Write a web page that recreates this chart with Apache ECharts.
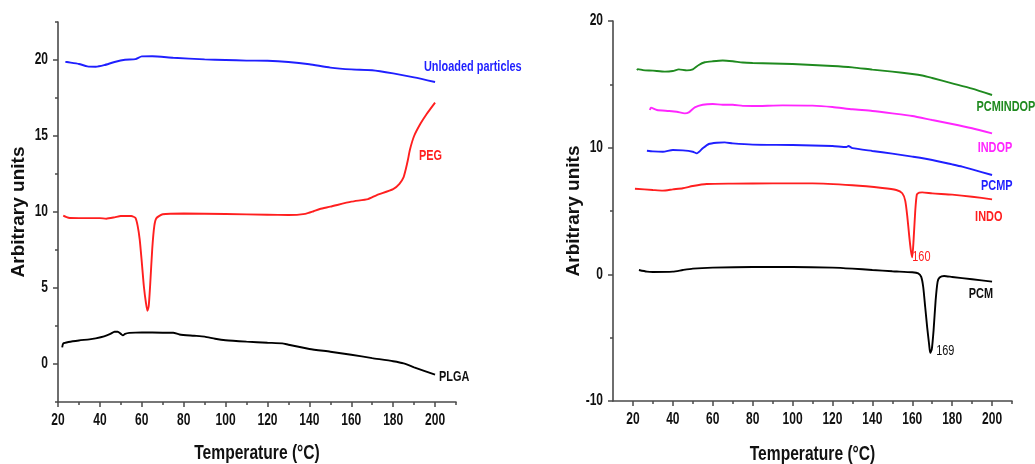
<!DOCTYPE html>
<html>
<head>
<meta charset="utf-8">
<script src="https://cdn.jsdelivr.net/npm/echarts@6/dist/echarts.min.js"></script>
<style>
  html, body { margin: 0; padding: 0; background: #fff; }
  #chart { width: 1035px; height: 464px; }
</style>
</head>
<body>
<div id="chart"></div>
<script>
// DSC thermograms: heat flow (arbitrary units) vs temperature (°C)

// Left panel
const plga = [[22,1.1],[22.5,1.35],[25,1.45],[30,1.55],[35,1.62],[38,1.69],[42,1.82],[45,1.98],[47,2.12],[48.5,2.12],[50,1.98],[51,1.88],[52,1.98],[54,2.05],[60,2.08],[70,2.06],[75,2.06],[78,1.94],[85,1.86],[90,1.8],[95,1.66],[100,1.56],[110,1.47],[120,1.4],[127,1.36],[130,1.27],[140,0.99],[150,0.81],[160,0.61],[170,0.39],[180,0.18],[185,0.04],[190,-0.22],[200,-0.7]];
const peg = [[22.5,9.76],[25,9.62],[30,9.6],[40,9.6],[43,9.56],[47,9.65],[50,9.74],[55,9.74],[57,9.6],[58,9.1],[59,8.2],[60,6.7],[61,5.1],[62,4.0],[62.7,3.5],[63.3,3.8],[64,5.2],[65,7.6],[66,9.1],[67,9.6],[70,9.85],[80,9.9],[100,9.87],[120,9.82],[130,9.8],[138,9.88],[142,10.05],[145,10.2],[150,10.35],[160,10.68],[168,10.85],[172,11.1],[180,11.5],[183,11.85],[185,12.3],[186,12.8],[187,13.4],[188,14.1],[190,15.0],[193,15.8],[196,16.45],[200,17.2]];
const unloaded = [[23.5,19.88],[25,19.85],[30,19.74],[34,19.58],[38,19.56],[42,19.66],[47,19.87],[52,20.02],[57,20.06],[60,20.24],[65,20.25],[75,20.15],[90,20.04],[100,20.0],[110,19.96],[120,19.95],[130,19.87],[140,19.72],[150,19.5],[160,19.38],[170,19.33],[180,19.12],[190,18.86],[200,18.55]];

// Right panel
const pcmindop = [[22,16.13],[22.5,16.2],[25,16.12],[30,16.08],[36,16.0],[40,16.05],[43,16.18],[47,16.1],[50,16.18],[53,16.53],[56,16.74],[60,16.82],[65,16.88],[70,16.82],[75,16.72],[80,16.68],[100,16.6],[120,16.45],[130,16.34],[140,16.16],[150,16.0],[160,15.82],[165,15.7],[170,15.5],[180,15.08],[190,14.66],[200,14.16]];
const indop = [[28.5,12.97],[29,13.16],[32,12.97],[38,12.9],[42,12.84],[46,12.71],[48,12.79],[51,13.18],[55,13.39],[60,13.45],[65,13.39],[70,13.39],[75,13.3],[80,13.29],[95,13.34],[110,13.32],[120,13.21],[130,13.03],[140,12.9],[150,12.71],[160,12.5],[170,12.18],[180,11.87],[190,11.53],[200,11.13]];
const pcmp = [[27,9.76],[30,9.71],[35,9.68],[40,9.82],[45,9.79],[50,9.68],[52,9.55],[55,9.95],[58,10.29],[62,10.39],[66,10.42],[70,10.34],[80,10.24],[100,10.21],[120,10.13],[127,10.05],[128,10.13],[130,9.96],[140,9.74],[150,9.53],[160,9.29],[170,9.03],[180,8.68],[185,8.5],[190,8.29],[200,7.84]];
const indo = [[21,6.76],[30,6.66],[35,6.61],[40,6.71],[45,6.8],[50,6.97],[57,7.13],[70,7.16],[90,7.18],[110,7.18],[130,7.03],[145,6.82],[152,6.66],[155,6.4],[156.5,5.8],[157.5,4.6],[158.5,3.0],[159.3,1.9],[160,1.35],[160.7,2.8],[161.5,5.0],[162.3,6.3],[163.5,6.45],[165,6.47],[170,6.39],[180,6.29],[190,6.13],[200,5.92]];
const pcm = [[23,0.34],[27,0.21],[30,0.18],[40,0.21],[45,0.34],[50,0.45],[60,0.53],[80,0.58],[100,0.58],[120,0.53],[130,0.45],[140,0.34],[150,0.24],[160,0.16],[163,0.08],[164.5,-0.2],[165.5,-1.0],[166.5,-2.6],[167.5,-4.2],[168.5,-5.6],[169,-6.2],[169.8,-5.9],[170.7,-4.4],[171.7,-2.1],[172.7,-0.6],[173.7,-0.25],[176,-0.13],[180,-0.21],[190,-0.39],[200,-0.58]];

// Peak annotations (temperature, heat flow)
const indoPeak = [160, 1.35];
const pcmPeak = [169, -6.2];

// Tick labels / tick positions
const xTickLabels = [20, 40, 60, 80, 100, 120, 140, 160, 180, 200];
const xMinorTicks = [30, 50, 70, 90, 110, 130, 150, 170, 190, 210];
const leftYTickLabels = [0, 5, 10, 15, 20];
const leftYMinorTicks = [-2.5, 2.5, 7.5, 12.5, 17.5, 22.5];
const rightYTickLabels = [-10, 0, 10, 20];
const rightYMinorTicks = [-5, 5, 15];

const WIDE = '"Liberation Sans", Arial, sans-serif';
const AXIS_COLOR = '#4a4a4a';

function axisCfg(gridIndex, min, max, majors, extra) {
  return Object.assign({
    type: 'value', gridIndex, min, max,
    axisLine: { show: true, onZero: false, lineStyle: { color: AXIS_COLOR, width: 1.6 } },
    axisTick: { show: true, customValues: majors, length: 5, lineStyle: { color: AXIS_COLOR, width: 1.5 } },
    axisLabel: { show: false },
    splitLine: { show: false }
  }, extra || {});
}

function minorAxisCfg(gridIndex, min, max, minors, position) {
  return {
    type: 'value', gridIndex, min, max, position, offset: 0,
    axisLine: { show: false, onZero: false },
    axisTick: { show: true, customValues: minors, length: 3, lineStyle: { color: AXIS_COLOR, width: 1.5 } },
    axisLabel: { show: false },
    splitLine: { show: false }
  };
}

const yName = {
  name: 'Arbitrary units', nameLocation: 'middle', nameGap: 30,
  nameTextStyle: { fontFamily: WIDE, fontWeight: 'bold', fontSize: 19, color: '#111' }
};

function trace(name, data, color, xi) {
  return {
    name, type: 'line', xAxisIndex: xi, yAxisIndex: xi, data,
    showSymbol: false, smooth: 0.2,
    lineStyle: { color, width: 1.9 },
    itemStyle: { color }
  };
}

const chart = echarts.init(document.getElementById('chart'), null, { renderer: 'canvas' });
chart.setOption({
  animation: false,
  backgroundColor: '#ffffff',
  grid: [
    { left: 58, top: 22, width: 398, height: 380 },
    { left: 613, top: 21, width: 399, height: 380 }
  ],
  xAxis: [
    axisCfg(0, 20, 210, xTickLabels, { position: 'bottom' }),
    axisCfg(1, 10, 210, xTickLabels, { position: 'bottom' }),
    minorAxisCfg(0, 20, 210, xMinorTicks, 'bottom'),
    minorAxisCfg(1, 10, 210, xMinorTicks, 'bottom')
  ],
  yAxis: [
    axisCfg(0, -2.5, 22.5, leftYTickLabels, Object.assign({ position: 'left' }, yName)),
    axisCfg(1, -10, 20, rightYTickLabels, Object.assign({ position: 'left' }, yName)),
    minorAxisCfg(0, -2.5, 22.5, leftYMinorTicks, 'left'),
    minorAxisCfg(1, -10, 20, rightYMinorTicks, 'left')
  ],
  series: [
    trace('PLGA', plga, '#000000', 0),
    trace('PEG', peg, '#ff1f1f', 0),
    trace('Unloaded particles', unloaded, '#1f1fff', 0),
    trace('PCMINDOP', pcmindop, '#1f8a1f', 1),
    trace('INDOP', indop, '#ff26ff', 1),
    trace('PCMP', pcmp, '#1f1fff', 1),
    trace('INDO', indo, '#ff1f1f', 1),
    trace('PCM', pcm, '#000000', 1)
  ]
});

// Condensed text: a regular sans face squeezed horizontally
function narrowText(p, text, opts) {
  const size = opts.size || 14;
  const weight = opts.bold === false ? 'normal' : 'bold';
  const align = opts.align || 'left';
  const vAlign = opts.vAlign || 'middle';
  return {
    type: 'text', silent: true,
    x: p[0], y: p[1], scaleX: opts.scale || 0.78, scaleY: 1,
    style: {
      text, fill: opts.color || '#111',
      font: weight + ' ' + size + 'px ' + WIDE,
      align, verticalAlign: vAlign,
      textAlign: align, textVerticalAlign: vAlign
    }
  };
}

function px(gridIndex, x, y) {
  return chart.convertToPixel({ gridIndex }, [x, y]);
}

const texts = [];

// Tick labels and x-axis titles for both panels
[[0, 20, -2.5, leftYTickLabels, 51], [1, 10, -10, rightYTickLabels, 53]].forEach(([g, xMin, yMin, yTicks, titleGap]) => {
  xTickLabels.forEach(v => {
    const p = px(g, v, yMin);
    texts.push(narrowText([p[0], p[1] + 19], String(v), { size: 16, scale: 0.75, align: 'center' }));
  });
  yTicks.forEach(v => {
    const p = px(g, xMin, v);
    texts.push(narrowText([p[0] - 10, p[1]], String(v), { size: 16, scale: 0.75, align: 'right' }));
  });
  const a = px(g, xMin, yMin);
  const b = px(g, 210, yMin);
  texts.push(narrowText([(a[0] + b[0]) / 2, a[1] + titleGap], 'Temperature (°C)', { size: 20, scale: 0.78, align: 'center' }));
});

// Curve names and peak temperatures
const tags = [
  [0, 194.7, 19.5, 'Unloaded particles', '#1f1fff', true],
  [0, 192.3, 13.7, 'PEG', '#ff1f1f', true],
  [0, 201.9, -0.84, 'PLGA', '#111', true],
  [1, 192.2, 13.2, 'PCMINDOP', '#1f8a1f', true],
  [1, 192.8, 10.0, 'INDOP', '#ff26ff', true],
  [1, 194.5, 6.97, 'PCMP', '#1f1fff', true],
  [1, 191.5, 4.55, 'INDO', '#ff1f1f', true],
  [1, 188.3, -1.55, 'PCM', '#111', true],
  [1, indoPeak[0], indoPeak[1], String(indoPeak[0]), '#ff1f1f', false],
  [1, pcmPeak[0] + 3, pcmPeak[1] + 0.1, String(pcmPeak[0]), '#111', false]
];
tags.forEach(([g, x, y, text, color, bold]) => {
  texts.push(narrowText(px(g, x, y), text, { size: 14, color, bold }));
});

chart.setOption({ graphic: { elements: texts } });
</script>
</body>
</html>
